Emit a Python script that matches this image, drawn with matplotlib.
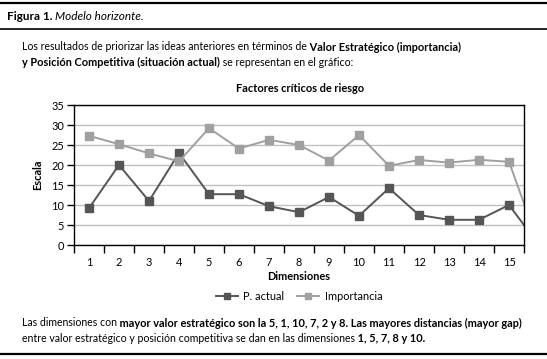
import matplotlib
matplotlib.use('Agg')
import matplotlib.pyplot as plt

plt.rcParams['font.family'] = ['Lato', 'DejaVu Sans']

# data (16th value is the empty cell Excel plotted as 0, clipped at the edge)
dims = list(range(1, 17))
tick_labels = [str(i) for i in range(1, 16)]
p_actual = [9.2, 20, 11, 23, 12.7, 12.7, 9.7, 8.2, 12, 7.3, 14.2, 7.5, 6.3, 6.3, 10, 0]
importancia = [27.3, 25.2, 22.9, 20.9, 29.2, 24.1, 26.3, 25, 21.1, 27.5, 19.8, 21.25, 20.6, 21.3, 20.8, 0]

W, H = 547, 359
fig = plt.figure(figsize=(W / 100, H / 100), dpi=100)

def fx(px):
    return px / W

def fy(py):
    return 1 - py / H

# rules
for y, lw in [(3, 1.6), (29, 1.2), (354, 1.6)]:
    fig.add_artist(plt.Line2D([0, 1], [fy(y), fy(y)], color='black', lw=lw, transform=fig.transFigure))

renderer = fig.canvas.get_renderer()

def rich_line(x, y, parts):
    # draw text pieces one after another, each with its own weight/style/size
    for txt, weight, style, size in parts:
        t = fig.text(fx(x), fy(y), txt, fontsize=size, fontweight=weight, fontstyle=style,
                     va='center', ha='left')
        bb = t.get_window_extent(renderer)
        x += bb.width

R, B = 7.6, 7.9
rich_line(7, 16, [('Figura 1. ', 'bold', 'normal', 8.5), ('Modelo horizonte.', 'normal', 'italic', 8.5)])
rich_line(22, 47, [('Los resultados de priorizar las ideas anteriores en términos de', 'normal', 'normal', R),
                   (' Valor Estratégico (importancia)', 'bold', 'normal', B)])
rich_line(22, 62, [('y Posición Competitiva (situación actual)', 'bold', 'normal', B),
                   (' se representan en el gráfico:', 'normal', 'normal', R)])
rich_line(22, 323, [('Las dimensiones con', 'normal', 'normal', R),
                    (' mayor valor estratégico son la 5, 1, 10, 7, 2 y 8. Las mayores distancias (mayor gap)', 'bold', 'normal', B)])
rich_line(22, 338, [('entre valor estratégico y posición competitiva se dan en las dimensiones', 'normal', 'normal', R),
                    (' 1, 5, 7, 8 y 10.', 'bold', 'normal', B)])

fig.text(fx(300), fy(88), 'Factores críticos de riesgo', fontsize=7.9, fontweight='bold',
         ha='center', va='center')

ax = fig.add_axes([fx(74), fy(245), fx(524) - fx(74), (245 - 105) / H])
ax.plot(dims, p_actual, color='#555555', lw=1.4, marker='s', ms=5.5, label='P. actual')
ax.plot(dims, importancia, color='#a0a0a0', lw=1.4, marker='s', ms=5.5, label='Importancia')

ax.set_xlim(0.5, 15.5)
ax.set_ylim(0, 35)
ax.set_yticks(range(0, 40, 5))
ax.set_xticks(range(1, 16))
ax.set_xticklabels(tick_labels)
ax.set_xticks([i + 0.5 for i in range(0, 16)], minor=True)
ax.tick_params(axis='x', which='major', length=0, pad=9, labelsize=7.9)
ax.tick_params(axis='x', which='minor', length=6, direction='out', width=1)
ax.tick_params(axis='y', length=5, direction='out', width=1, labelsize=7.9, pad=2)
ax.yaxis.grid(True, color='#c0c0c0', lw=1)
ax.set_axisbelow(True)
for s in ax.spines.values():
    s.set_linewidth(1)
    s.set_color('black')

ax.set_xlabel('Dimensiones', fontsize=7.9, fontweight='bold', labelpad=2)
ax.set_ylabel('Escala', fontsize=7.9, fontweight='bold', labelpad=6)

ax.legend(loc='center', bbox_to_anchor=(0.5, -0.37), ncol=2, frameon=False, fontsize=7.9,
          handlelength=2.0, columnspacing=1.2, handletextpad=0.5, markerscale=0.85)

fig.savefig('out.png', dpi=100)
